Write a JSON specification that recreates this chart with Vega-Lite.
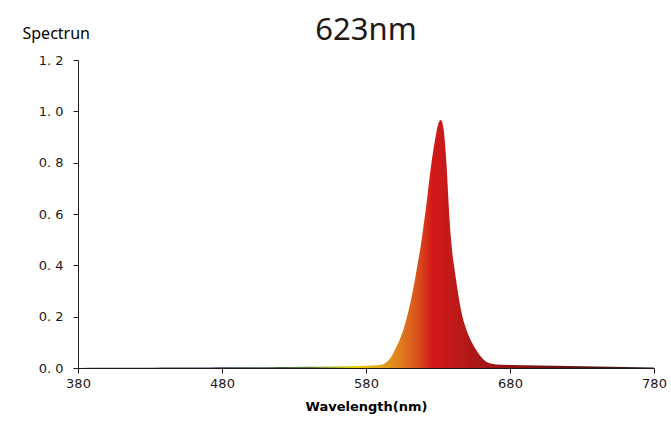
{
  "$schema": "https://vega.github.io/schema/vega-lite/v6.json",
  "width": 576,
  "height": 308,
  "autosize": {"type": "none"},
  "padding": {"left": 78, "top": 60, "right": 17, "bottom": 56},
  "background": "white",
  "title": {
    "text": "623nm",
    "fontSize": 31,
    "font": "Noto Sans",
    "fontWeight": "normal",
    "color": "#231815",
    "anchor": "middle",
    "offset": 14,
    "dy": 36
  },
  "config": {
    "view": {"stroke": null},
    "axis": {"grid": false, "domainColor": "#231815", "tickColor": "#231815", "labelColor": "#231815", "labelFont": "DejaVu Sans", "titleFont": "DejaVu Sans"}
  },
  "data": {
    "values": [
      {"nm": 380, "v": 0.0},
      {"nm": 400, "v": 0.001},
      {"nm": 420, "v": 0.001},
      {"nm": 440, "v": 0.002},
      {"nm": 460, "v": 0.002},
      {"nm": 480, "v": 0.003},
      {"nm": 500, "v": 0.003},
      {"nm": 520, "v": 0.004},
      {"nm": 540, "v": 0.005},
      {"nm": 560, "v": 0.006},
      {"nm": 575, "v": 0.008},
      {"nm": 585, "v": 0.01},
      {"nm": 590, "v": 0.012},
      {"nm": 593, "v": 0.018},
      {"nm": 596, "v": 0.032},
      {"nm": 598, "v": 0.048},
      {"nm": 600, "v": 0.07},
      {"nm": 603, "v": 0.105},
      {"nm": 606, "v": 0.15},
      {"nm": 609, "v": 0.21},
      {"nm": 612, "v": 0.285},
      {"nm": 614, "v": 0.345},
      {"nm": 616, "v": 0.41},
      {"nm": 618, "v": 0.475},
      {"nm": 620, "v": 0.555},
      {"nm": 622, "v": 0.64},
      {"nm": 624, "v": 0.735},
      {"nm": 626, "v": 0.82},
      {"nm": 628, "v": 0.89},
      {"nm": 629, "v": 0.922},
      {"nm": 630, "v": 0.948},
      {"nm": 631, "v": 0.962},
      {"nm": 632, "v": 0.966},
      {"nm": 633, "v": 0.956},
      {"nm": 634, "v": 0.925},
      {"nm": 635, "v": 0.865},
      {"nm": 636, "v": 0.785},
      {"nm": 637, "v": 0.68},
      {"nm": 638, "v": 0.58},
      {"nm": 639, "v": 0.505},
      {"nm": 640, "v": 0.445},
      {"nm": 641.5, "v": 0.385},
      {"nm": 643, "v": 0.325},
      {"nm": 645, "v": 0.255},
      {"nm": 647, "v": 0.2},
      {"nm": 650, "v": 0.145},
      {"nm": 653, "v": 0.105},
      {"nm": 657, "v": 0.066},
      {"nm": 661, "v": 0.036},
      {"nm": 665, "v": 0.02},
      {"nm": 670, "v": 0.014},
      {"nm": 680, "v": 0.012},
      {"nm": 700, "v": 0.01},
      {"nm": 720, "v": 0.008},
      {"nm": 740, "v": 0.006},
      {"nm": 760, "v": 0.004},
      {"nm": 780, "v": 0.002}
    ]
  },
  "mark": {
    "type": "area",
    "interpolate": "monotone",
    "fill": {
      "gradient": "linear",
      "x1": 0, "y1": 0, "x2": 1, "y2": 0,
      "stops": [
        {"offset": 0.0, "color": "#3a3a3a"},
        {"offset": 0.25, "color": "#2c3a55"},
        {"offset": 0.4, "color": "#5a7a3a"},
        {"offset": 0.48, "color": "#e6d000"},
        {"offset": 0.53, "color": "#e3a01a"},
        {"offset": 0.555, "color": "#e0821e"},
        {"offset": 0.59, "color": "#d8501a"},
        {"offset": 0.615, "color": "#d41818"},
        {"offset": 0.65, "color": "#c01a1a"},
        {"offset": 0.7, "color": "#a81616"},
        {"offset": 0.8, "color": "#7a1010"},
        {"offset": 0.9, "color": "#4a1212"},
        {"offset": 1.0, "color": "#2a2020"}
      ]
    }
  },
  "encoding": {
    "x": {
      "field": "nm",
      "type": "quantitative",
      "scale": {"domain": [380, 780], "nice": false, "zero": false},
      "axis": {
        "values": [380, 480, 580, 680, 780],
        "title": "Wavelength(nm)",
        "titleFontSize": 13,
        "titleFontWeight": "bold",
        "titlePadding": 10,
        "labelFontSize": 13,
        "labelPadding": 4,
        "tickSize": 5,
        "labelFlush": false
      }
    },
    "y": {
      "field": "v",
      "type": "quantitative",
      "scale": {"domain": [0, 1.2], "nice": false},
      "axis": {
        "values": [0, 0.2, 0.4, 0.6, 0.8, 1.0, 1.2],
        "labelExpr": "replace(format(datum.value, '.1f'), '.', '. ')",
        "labelFontSize": 13,
        "labelPadding": 10,
        "tickSize": 5,
        "title": "Spectrun",
        "titleAngle": 0,
        "titleFont": "Noto Sans",
        "titleFontWeight": "normal",
        "titleFontSize": 16,
        "titleAlign": "left",
        "titleBaseline": "alphabetic",
        "titleX": -56,
        "titleY": -22
      }
    }
  }
}
